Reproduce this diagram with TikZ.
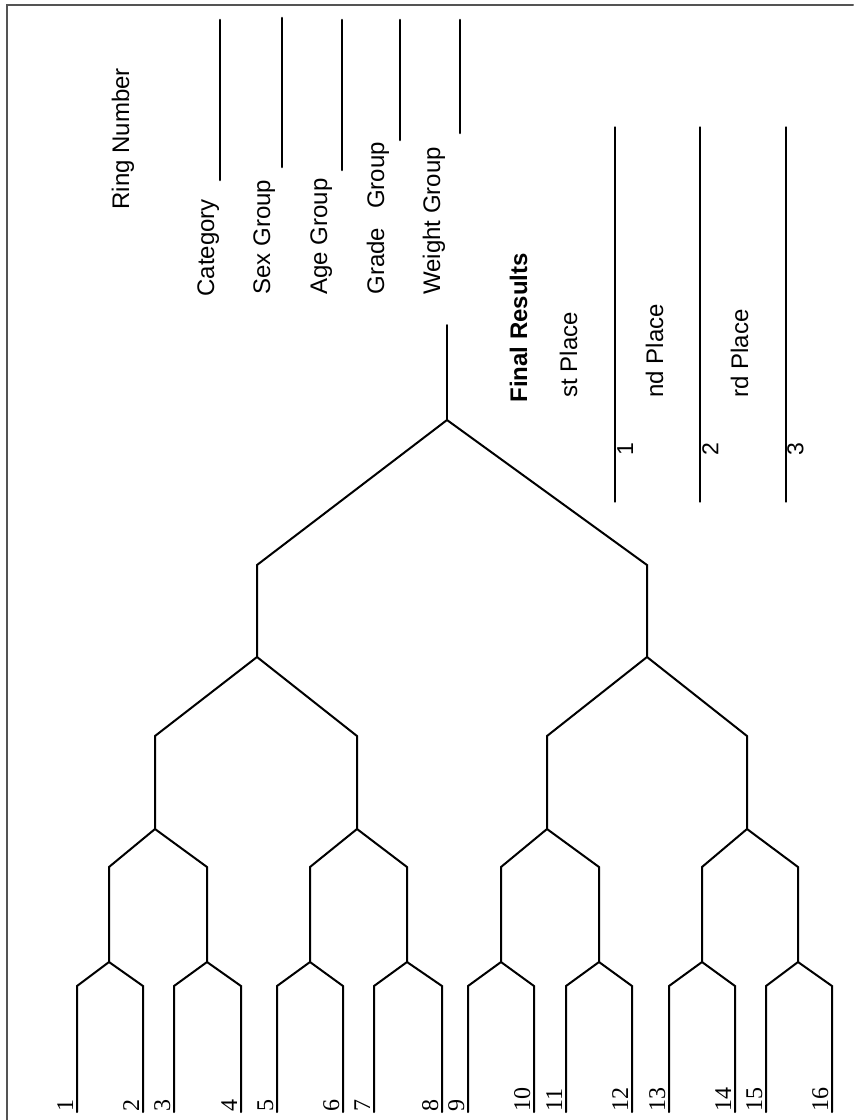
\documentclass[tikz,border=0pt]{standalone}
\usepackage{fontspec}
\setmainfont{Liberation Sans}
\newfontfamily\seedfont{Liberation Serif}
\usepackage{tkz-euclide}
\definecolor{FrameClr}{rgb}{0.33,0.33,0.33}

\begin{document}
\begin{tikzpicture}[x=0.5pt,y=-0.5pt,
  heading/.style={rotate=90,anchor=base west,inner sep=0pt,font=\fontsize{12}{14}\selectfont},
  seed/.style={rotate=90,anchor=base west,inner sep=0pt,font=\seedfont\fontsize{12}{14}\selectfont},
  place/.style={rotate=90,anchor=north,inner sep=0pt,font=\fontsize{11.5}{13}\selectfont}]
\useasboundingbox (0,0) rectangle (853,1120);
\tkzSetUpLine[line width=1pt,color=black]

% frame
\tkzDefPoints{853/5/Fr1,7/5/Fr2,7/1120/Fr3}
\tkzDrawPolySeg[color=FrameClr,line width=1pt](Fr1,Fr2,Fr3)

% first round
\tkzDefPoints{77/1112/B1,143/1112/B2,174/1112/B3,241/1112/B4,277/1112/B5,343/1112/B6,374/1112/B7,442/1112/B8,
  468/1112/B9,534/1112/B10,566/1112/B11,632/1112/B12,669/1112/B13,735/1112/B14,766/1112/B15,832/1112/B16}
\tkzDefPoints{77/986/T1,143/986/T2,174/986/T3,241/986/T4,277/986/T5,343/986/T6,374/986/T7,442/986/T8,
  468/986/T9,534/986/T10,566/986/T11,632/986/T12,669/986/T13,735/986/T14,766/986/T15,832/986/T16}
\tkzDefPoints{109/962/P1,207/962/P2,310/962/P3,407/962/P4,501/962/P5,599/962/P6,702/962/P7,798/962/P8}

% later rounds
\tkzDefPoints{109/867/U1,207/867/U2,310/867/U3,407/867/U4,501/867/U5,599/867/U6,702/867/U7,798/867/U8}
\tkzDefPoints{155/829/Q1,357/829/Q2,547/829/Q3,747/829/Q4}
\tkzDefPoints{155/736/V1,357/736/V2,547/736/V3,747/736/V4}
\tkzDefPoints{257/657/S1,647/657/S2,257/565/W1,647/565/W2,447/420/F,447/325/G}

\tkzDrawPolySeg(B1,T1,P1,T2,B2)
\tkzDrawPolySeg(B3,T3,P2,T4,B4)
\tkzDrawPolySeg(B5,T5,P3,T6,B6)
\tkzDrawPolySeg(B7,T7,P4,T8,B8)
\tkzDrawPolySeg(B9,T9,P5,T10,B10)
\tkzDrawPolySeg(B11,T11,P6,T12,B12)
\tkzDrawPolySeg(B13,T13,P7,T14,B14)
\tkzDrawPolySeg(B15,T15,P8,T16,B16)
\tkzDrawPolySeg(P1,U1,Q1,U2,P2)
\tkzDrawPolySeg(P3,U3,Q2,U4,P4)
\tkzDrawPolySeg(P5,U5,Q3,U6,P6)
\tkzDrawPolySeg(P7,U7,Q4,U8,P8)
\tkzDrawPolySeg(Q1,V1,S1,V2,Q2)
\tkzDrawPolySeg(Q3,V3,S2,V4,Q4)
\tkzDrawPolySeg(S1,W1,F,W2,S2)
\tkzDrawSegment(F,G)

% seed numbers
\tkzDefPoints{73/1112/N1,139/1112/N2,170/1112/N3,237/1112/N4,273/1112/N5,339/1112/N6,370/1112/N7,438/1112/N8,
  464/1112/N9,530/1112/N10,562/1112/N11,628/1112/N12,665/1112/N13,731/1112/N14,762/1112/N15,828/1112/N16}
\tkzLabelPoint[seed,name=s1](N1){1}
\tkzLabelPoint[seed,name=s2](N2){2}
\tkzLabelPoint[seed,name=s3](N3){3}
\tkzLabelPoint[seed,name=s4](N4){4}
\tkzLabelPoint[seed,name=s5](N5){5}
\tkzLabelPoint[seed,name=s6](N6){6}
\tkzLabelPoint[seed,name=s7](N7){7}
\tkzLabelPoint[seed,name=s8](N8){8}
\tkzLabelPoint[seed,name=s9](N9){9}
\tkzLabelPoint[seed,name=s10](N10){10}
\tkzLabelPoint[seed,name=s11](N11){11}
\tkzLabelPoint[seed,name=s12](N12){12}
\tkzLabelPoint[seed,name=s13](N13){13}
\tkzLabelPoint[seed,name=s14](N14){14}
\tkzLabelPoint[seed,name=s15](N15){15}
\tkzLabelPoint[seed,name=s16](N16){16}

% heading fields
\tkzDefPoints{220/20/CatT,220/180/CatB,282/18/SexT,282/167/SexB,342/20/AgeT,342/170/AgeB,
  400/20/GrdT,400/140/GrdB,460/20/WgtT,460/133/WgtB}
\tkzDrawSegments[line width=1.3pt](CatT,CatB SexT,SexB AgeT,AgeB GrdT,GrdB WgtT,WgtB)
\tkzDefPoints{129/210/Lring,214/297/Lcat,270/295/Lsex,327/295/Lage,384/295/Lgrd,440/295/Lwgt}
\tkzLabelPoint[heading,name=ring](Lring){Ring Number}
\tkzLabelPoint[heading,name=cat](Lcat){Category}
\tkzLabelPoint[heading,name=sex](Lsex){Sex Group}
\tkzLabelPoint[heading,name=age](Lage){Age Group}
\tkzLabelPoint[heading,name=grd](Lgrd){Grade\hspace{9.5pt}Group}
\tkzLabelPoint[heading,name=wgt](Lwgt){Weight Group}

% final results
\tkzDefPoints{615/127/PlAT,615/502/PlAB,700/127/PlBT,700/502/PlBB,786/127/PlCT,786/502/PlCB}
\tkzDrawSegments[line width=0.6pt](PlAT,PlAB PlBT,PlBB PlCT,PlCB)
\tkzDefPoints{527/403/Lfin,577/398/Lfst,663/398/Lsnd,748/398/Lthd,617/449/Ma,702/449/Mb,787/449/Mc}
\tkzLabelPoint[heading,name=fin,font=\fontsize{12}{14}\selectfont\bfseries](Lfin){Final Results}
\tkzLabelPoint[heading,name=fst](Lfst){st Place}
\tkzLabelPoint[heading,name=snd](Lsnd){nd Place}
\tkzLabelPoint[heading,name=thd](Lthd){rd Place}
\tkzLabelPoint[place,name=pa](Ma){1}
\tkzLabelPoint[place,name=pb](Mb){2}
\tkzLabelPoint[place,name=pc](Mc){3}

\end{tikzpicture}
\end{document}
